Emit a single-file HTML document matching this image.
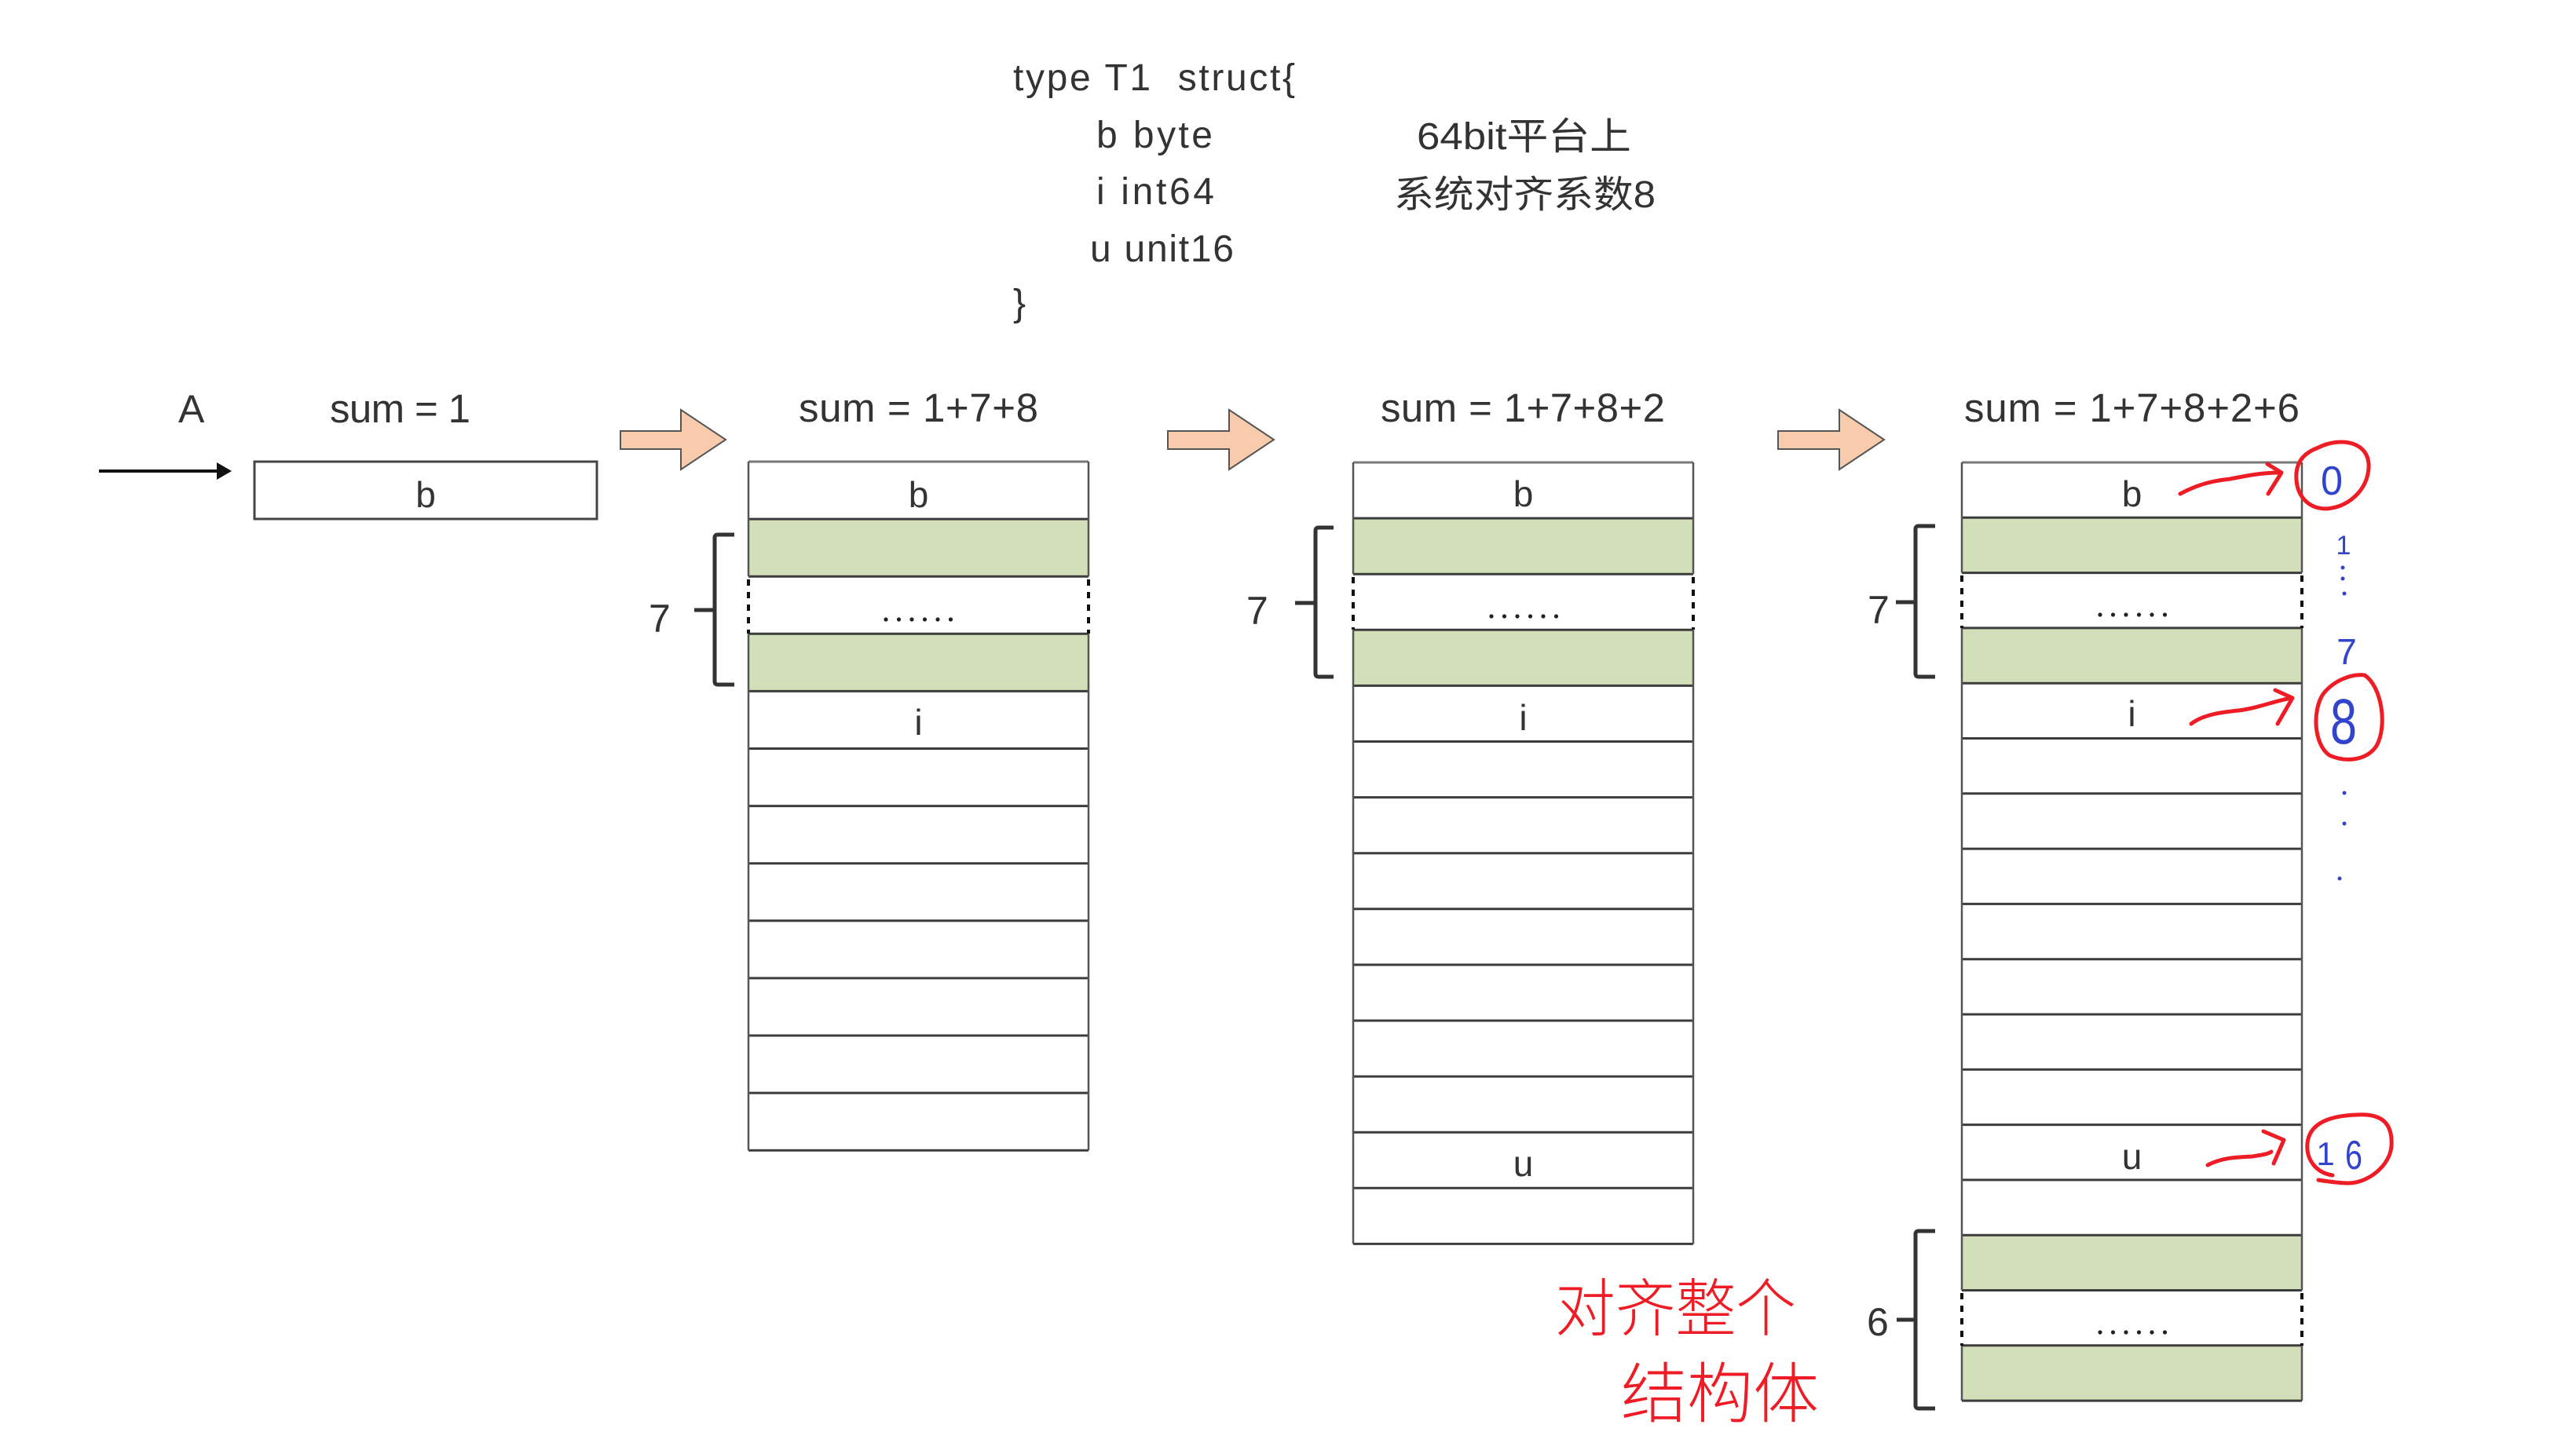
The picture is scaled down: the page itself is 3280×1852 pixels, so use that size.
<!DOCTYPE html>
<html>
<head>
<meta charset="utf-8">
<style>
  html,body{margin:0;padding:0;background:#fff;}
  svg{display:block;}
  .t{font-family:"Liberation Sans","Noto Sans CJK SC",sans-serif;fill:#333;}
  .cjk{font-family:"Liberation Sans","Noto Sans CJK SC",sans-serif;fill:#333;}
  .hw{font-family:"Noto Sans CJK SC","WenQuanYi Zen Hei",sans-serif;fill:#ee1c25;font-weight:300;}
  .bl{font-family:"Liberation Sans",sans-serif;fill:#3344cc;}
</style>
</head>
<body>
<svg width="3280" height="1852" viewBox="0 0 3280 1852" xmlns="http://www.w3.org/2000/svg">
  <rect x="0" y="0" width="3280" height="1852" fill="#fff"/>

  <!-- Code block -->
  <text class="t" x="1290" y="115" font-size="48" textLength="359" lengthAdjust="spacing" style="white-space:pre">type T1  struct{</text>
  <text class="t" x="1396" y="188" font-size="48" textLength="148" lengthAdjust="spacing" style="white-space:pre">b byte</text>
  <text class="t" x="1396" y="260" font-size="48" textLength="150" lengthAdjust="spacing" style="white-space:pre">i int64</text>
  <text class="t" x="1388" y="333" font-size="48" textLength="183" lengthAdjust="spacing" style="white-space:pre">u unit16</text>
  <text class="t" x="1290" y="402" font-size="48">}</text>
  <text class="cjk" x="1804" y="190" font-size="48" textLength="273" lengthAdjust="spacingAndGlyphs">64bit平台上</text>
  <text class="cjk" x="1775" y="264" font-size="48" textLength="333" lengthAdjust="spacingAndGlyphs">系统对齐系数8</text>

  <!-- headers -->
  <text class="t" x="227" y="538" font-size="50">A</text>
  <text class="t" x="420" y="538" font-size="51" textLength="179" lengthAdjust="spacing" style="white-space:pre">sum = 1</text>
  <text class="t" x="1017" y="537" font-size="51" textLength="305" lengthAdjust="spacing" style="white-space:pre">sum = 1+7+8</text>
  <text class="t" x="1758" y="537" font-size="51" textLength="362" lengthAdjust="spacing" style="white-space:pre">sum = 1+7+8+2</text>
  <text class="t" x="2501" y="537" font-size="51" textLength="427" lengthAdjust="spacing" style="white-space:pre">sum = 1+7+8+2+6</text>

  <!-- black pointer arrow -->
  <line x1="126" y1="600" x2="280" y2="600" stroke="#111" stroke-width="4"/>
  <polygon points="276,589 295,600 276,611" fill="#111"/>

  <!-- first box -->
  <rect x="324" y="588" width="436" height="73" fill="#fff" stroke="#444" stroke-width="3"/>
  <text class="t" x="542" y="646" font-size="46" text-anchor="middle">b</text>

  <!-- orange arrows -->
  <polygon points="790,549 867,549 867,522 924,560 867,598 867,572 790,572" fill="#f8cbad" stroke="#555" stroke-width="2"/>
  <polygon points="1487,549 1565,549 1565,522 1622,560 1565,598 1565,572 1487,572" fill="#f8cbad" stroke="#555" stroke-width="2"/>
  <polygon points="2264,549 2342,549 2342,522 2399,560 2342,598 2342,572 2264,572" fill="#f8cbad" stroke="#555" stroke-width="2"/>

  <!-- ===== Column 2 ===== -->
  <g>
    <rect x="953" y="661.1" width="433" height="73.1" fill="#d2dfb8"/>
    <rect x="953" y="807.3" width="433" height="73.1" fill="#d2dfb8"/>
    <g stroke="#3c3c3c" stroke-width="3">
      <line x1="953" y1="588" x2="1386" y2="588" stroke="#777"/>
      <line x1="953" y1="661.1" x2="1386" y2="661.1"/>
      <line x1="953" y1="734.2" x2="1386" y2="734.2"/>
      <line x1="953" y1="807.3" x2="1386" y2="807.3"/>
      <line x1="953" y1="880.4" x2="1386" y2="880.4"/>
      <line x1="953" y1="953.5" x2="1386" y2="953.5"/>
      <line x1="953" y1="1026.6" x2="1386" y2="1026.6"/>
      <line x1="953" y1="1099.7" x2="1386" y2="1099.7"/>
      <line x1="953" y1="1172.8" x2="1386" y2="1172.8"/>
      <line x1="953" y1="1245.9" x2="1386" y2="1245.9"/>
      <line x1="953" y1="1319" x2="1386" y2="1319"/>
      <line x1="953" y1="1392.1" x2="1386" y2="1392.1"/>
      <line x1="953" y1="1465.2" x2="1386" y2="1465.2"/>
    </g>
    <g stroke="#555" stroke-width="2.5">
      <line x1="953" y1="588" x2="953" y2="734.2"/>
      <line x1="953" y1="807.3" x2="953" y2="1465.2"/>
      <line x1="1386" y1="588" x2="1386" y2="734.2"/>
      <line x1="1386" y1="807.3" x2="1386" y2="1465.2"/>
    </g>
    <g stroke="#111" stroke-width="4" stroke-dasharray="8 8">
      <line x1="953" y1="738" x2="953" y2="807"/>
      <line x1="1386" y1="738" x2="1386" y2="807"/>
    </g>
    <text class="t" x="1169.5" y="646" font-size="46" text-anchor="middle">b</text>
    <text class="t" x="1169.5" y="936" font-size="46" text-anchor="middle">i</text>
    <g fill="#222">
      <circle cx="1128" cy="789" r="2.6"/><circle cx="1144.5" cy="789" r="2.6"/><circle cx="1161" cy="789" r="2.6"/>
      <circle cx="1177.5" cy="789" r="2.6"/><circle cx="1194" cy="789" r="2.6"/><circle cx="1210.5" cy="789" r="2.6"/>
    </g>
    <path d="M935,681 L914,681 Q910,681 910,685 L910,868 Q910,872 914,872 L935,872 M884,777 L910,777" fill="none" stroke="#333" stroke-width="5"/>
    <text class="t" x="826" y="805" font-size="50">7</text>
  </g>

  <!-- ===== Column 3 ===== -->
  <g>
    <rect x="1723" y="660.1" width="433" height="71.1" fill="#d2dfb8"/>
    <rect x="1723" y="802.3" width="433" height="71.1" fill="#d2dfb8"/>
    <g stroke="#3c3c3c" stroke-width="3">
      <line x1="1723" y1="589" x2="2156" y2="589" stroke="#777"/>
      <line x1="1723" y1="660.1" x2="2156" y2="660.1"/>
      <line x1="1723" y1="731.2" x2="2156" y2="731.2"/>
      <line x1="1723" y1="802.3" x2="2156" y2="802.3"/>
      <line x1="1723" y1="873.4" x2="2156" y2="873.4"/>
      <line x1="1723" y1="944.5" x2="2156" y2="944.5"/>
      <line x1="1723" y1="1015.6" x2="2156" y2="1015.6"/>
      <line x1="1723" y1="1086.7" x2="2156" y2="1086.7"/>
      <line x1="1723" y1="1157.8" x2="2156" y2="1157.8"/>
      <line x1="1723" y1="1228.9" x2="2156" y2="1228.9"/>
      <line x1="1723" y1="1300" x2="2156" y2="1300"/>
      <line x1="1723" y1="1371.1" x2="2156" y2="1371.1"/>
      <line x1="1723" y1="1442.2" x2="2156" y2="1442.2"/>
      <line x1="1723" y1="1513.3" x2="2156" y2="1513.3"/>
      <line x1="1723" y1="1584.4" x2="2156" y2="1584.4"/>
    </g>
    <g stroke="#555" stroke-width="2.5">
      <line x1="1723" y1="589" x2="1723" y2="731.2"/>
      <line x1="1723" y1="802.3" x2="1723" y2="1584.4"/>
      <line x1="2156" y1="589" x2="2156" y2="731.2"/>
      <line x1="2156" y1="802.3" x2="2156" y2="1584.4"/>
    </g>
    <g stroke="#111" stroke-width="4" stroke-dasharray="8 8">
      <line x1="1723" y1="735" x2="1723" y2="802"/>
      <line x1="2156" y1="735" x2="2156" y2="802"/>
    </g>
    <text class="t" x="1939.5" y="645" font-size="46" text-anchor="middle">b</text>
    <text class="t" x="1939.5" y="930" font-size="46" text-anchor="middle">i</text>
    <text class="t" x="1939.5" y="1498" font-size="46" text-anchor="middle">u</text>
    <g fill="#222">
      <circle cx="1899" cy="785" r="2.6"/><circle cx="1915.5" cy="785" r="2.6"/><circle cx="1932" cy="785" r="2.6"/>
      <circle cx="1948.5" cy="785" r="2.6"/><circle cx="1965" cy="785" r="2.6"/><circle cx="1981.5" cy="785" r="2.6"/>
    </g>
    <path d="M1698,672 L1679,672 Q1675,672 1675,676 L1675,858 Q1675,862 1679,862 L1698,862 M1649,768 L1675,768" fill="none" stroke="#333" stroke-width="5"/>
    <text class="t" x="1587" y="795" font-size="50">7</text>
  </g>

  <!-- ===== Column 4 ===== -->
  <g>
    <rect x="2498" y="659.3" width="433" height="70.3" fill="#d2dfb8"/>
    <rect x="2498" y="799.9" width="433" height="70.3" fill="#d2dfb8"/>
    <rect x="2498" y="1573.2" width="433" height="70.3" fill="#d2dfb8"/>
    <rect x="2498" y="1713.8" width="433" height="70.3" fill="#d2dfb8"/>
    <g stroke="#3c3c3c" stroke-width="3">
      <line x1="2498" y1="589" x2="2931" y2="589" stroke="#777"/>
      <line x1="2498" y1="659.3" x2="2931" y2="659.3"/>
      <line x1="2498" y1="729.6" x2="2931" y2="729.6"/>
      <line x1="2498" y1="799.9" x2="2931" y2="799.9"/>
      <line x1="2498" y1="870.2" x2="2931" y2="870.2"/>
      <line x1="2498" y1="940.5" x2="2931" y2="940.5"/>
      <line x1="2498" y1="1010.8" x2="2931" y2="1010.8"/>
      <line x1="2498" y1="1081.1" x2="2931" y2="1081.1"/>
      <line x1="2498" y1="1151.4" x2="2931" y2="1151.4"/>
      <line x1="2498" y1="1221.7" x2="2931" y2="1221.7"/>
      <line x1="2498" y1="1292" x2="2931" y2="1292"/>
      <line x1="2498" y1="1362.3" x2="2931" y2="1362.3"/>
      <line x1="2498" y1="1432.6" x2="2931" y2="1432.6"/>
      <line x1="2498" y1="1502.9" x2="2931" y2="1502.9"/>
      <line x1="2498" y1="1573.2" x2="2931" y2="1573.2"/>
      <line x1="2498" y1="1643.5" x2="2931" y2="1643.5"/>
      <line x1="2498" y1="1713.8" x2="2931" y2="1713.8"/>
      <line x1="2498" y1="1784.1" x2="2931" y2="1784.1"/>
    </g>
    <g stroke="#555" stroke-width="2.5">
      <line x1="2498" y1="589" x2="2498" y2="729.6"/>
      <line x1="2498" y1="799.9" x2="2498" y2="1643.5"/>
      <line x1="2498" y1="1713.8" x2="2498" y2="1784.1"/>
      <line x1="2931" y1="589" x2="2931" y2="729.6"/>
      <line x1="2931" y1="799.9" x2="2931" y2="1643.5"/>
      <line x1="2931" y1="1713.8" x2="2931" y2="1784.1"/>
    </g>
    <g stroke="#111" stroke-width="4" stroke-dasharray="8 8">
      <line x1="2498" y1="733" x2="2498" y2="800"/>
      <line x1="2931" y1="733" x2="2931" y2="800"/>
      <line x1="2498" y1="1647" x2="2498" y2="1714"/>
      <line x1="2931" y1="1647" x2="2931" y2="1714"/>
    </g>
    <text class="t" x="2714.5" y="645" font-size="46" text-anchor="middle">b</text>
    <text class="t" x="2714.5" y="925" font-size="46" text-anchor="middle">i</text>
    <text class="t" x="2714.5" y="1489" font-size="46" text-anchor="middle">u</text>
    <g fill="#222">
      <circle cx="2674" cy="783" r="2.6"/><circle cx="2690.5" cy="783" r="2.6"/><circle cx="2707" cy="783" r="2.6"/>
      <circle cx="2723.5" cy="783" r="2.6"/><circle cx="2740" cy="783" r="2.6"/><circle cx="2756.5" cy="783" r="2.6"/>
      <circle cx="2674" cy="1697" r="2.6"/><circle cx="2690.5" cy="1697" r="2.6"/><circle cx="2707" cy="1697" r="2.6"/>
      <circle cx="2723.5" cy="1697" r="2.6"/><circle cx="2740" cy="1697" r="2.6"/><circle cx="2756.5" cy="1697" r="2.6"/>
    </g>
    <path d="M2464,670 L2443,670 Q2439,670 2439,674 L2439,858 Q2439,862 2443,862 L2464,862 M2414,767 L2439,767" fill="none" stroke="#333" stroke-width="5"/>
    <text class="t" x="2378" y="794" font-size="50">7</text>
    <path d="M2464,1568 L2443,1568 Q2439,1568 2439,1572 L2439,1790 Q2439,1794 2443,1794 L2464,1794 M2415,1681 L2439,1681" fill="none" stroke="#333" stroke-width="5"/>
    <text class="t" x="2377" y="1701" font-size="50">6</text>
  </g>

  <!-- ===== Red annotations ===== -->
  <g fill="none" stroke="#ee1c25" stroke-width="5" stroke-linecap="round" stroke-linejoin="round">
    <path d="M2776,629 C2800,616 2820,612 2840,610 C2860,606 2880,602 2903,602"/>
    <path d="M2887,591 L2905,602 L2888,629"/>
    <path d="M2952,570 C2980,556 3018,562 3016,596 C3014,625 2990,646 2962,648 C2938,648 2922,630 2924,602 C2926,585 2936,576 2952,570"/>
    <path d="M2790,922 C2805,910 2830,907 2850,905 C2875,902 2895,893 2918,889"/>
    <path d="M2897,879 L2919,889 L2900,922"/>
    <path d="M3011,860 C3033,875 3040,925 3026,950 C3014,968 2988,972 2966,962 C2946,948 2944,905 2958,884 C2972,866 2995,858 3011,860"/>
    <path d="M2811,1484 C2830,1474 2850,1474 2868,1473 C2880,1471 2888,1470 2892,1467"/>
    <path d="M2882,1441 L2908,1452 L2895,1482"/>
    <path d="M2970,1497 C2950,1494 2936,1478 2938,1456 C2941,1428 2972,1421 3000,1420 C3030,1418 3047,1428 3045,1460 C3043,1485 3015,1507 2990,1507 C2978,1507 2965,1505 2952,1503"/>
  </g>

  <!-- red handwriting -->
  <text class="hw" x="1980" y="1695" font-size="80" textLength="307" lengthAdjust="spacingAndGlyphs">对齐整个</text>
  <text class="hw" x="2064" y="1805" font-size="84" textLength="252" lengthAdjust="spacingAndGlyphs">结构体</text>

  <!-- ===== Blue annotations ===== -->
  <text class="bl" x="2969" y="630" font-size="52" text-anchor="middle" textLength="28" lengthAdjust="spacingAndGlyphs">0</text>
  <text class="bl" x="2984" y="706" font-size="34" text-anchor="middle">1</text>
  <g fill="#3344cc">
    <circle cx="2983" cy="723" r="2.5"/><circle cx="2983" cy="737" r="2.5"/><circle cx="2985" cy="756" r="2.5"/>
    <circle cx="2985" cy="1010" r="2.5"/><circle cx="2985" cy="1049" r="2.5"/><circle cx="2979" cy="1119" r="2.5"/>
  </g>
  <text class="bl" x="2988" y="846" font-size="46" text-anchor="middle">7</text>
  <text class="bl" x="2984" y="947" font-size="82" text-anchor="middle" textLength="34" lengthAdjust="spacingAndGlyphs">8</text>
  <text class="bl" x="2961" y="1484" font-size="42" text-anchor="middle">1</text>
  <text class="bl" x="2997" y="1489" font-size="52" text-anchor="middle" textLength="22" lengthAdjust="spacingAndGlyphs">6</text>
</svg>
</body>
</html>
